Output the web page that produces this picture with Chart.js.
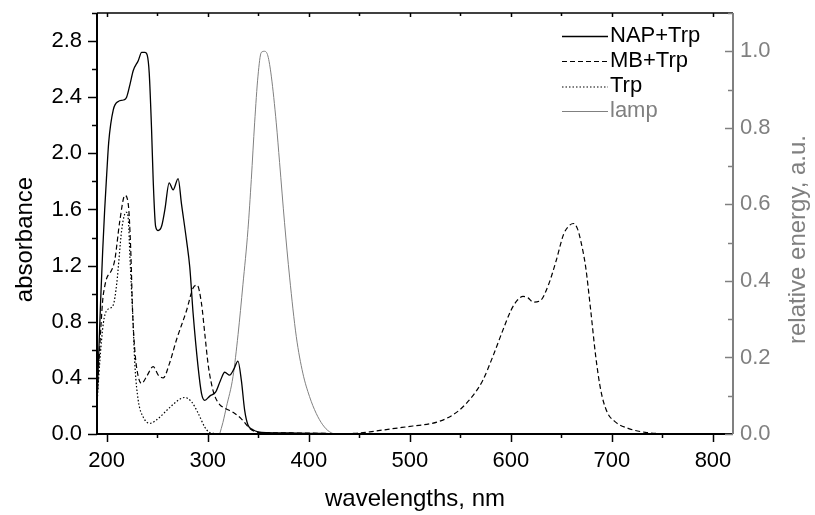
<!DOCTYPE html>
<html>
<head>
<meta charset="utf-8">
<title>absorbance and lamp spectrum</title>
<script src="https://cdn.jsdelivr.net/npm/chart.js@4.4.1/dist/chart.umd.min.js"></script>
<style>
    html, body { margin: 0; padding: 0; background: #ffffff; }
    #wrap { width: 815px; height: 515px; position: relative; }
</style>
</head>
<body>
<div id="wrap"><canvas id="spectraChart"></canvas></div>
<script>
/*
 Absorbance of NAP+Trp, MB+Trp, Trp and the lamp emission (right axis)
*/

// NAP+Trp, solid
const napWl = [190.5, 192, 194, 196, 198, 200, 202, 206.5, 211.5, 216.5, 219.7, 223, 226.3, 231.2, 234.6, 237.8, 240.1, 242.1, 244.4, 246, 248.4, 250.9, 254.3, 257.6, 261.8, 265.7, 270.7, 274, 279, 282.2, 285.5, 290.4, 293.8, 297, 302, 307.9, 312.5, 316.8, 321.7, 325.7, 329.9, 333.3, 336.5, 339.8, 344.7, 350, 360, 380, 400, 420];
const napAbs = [0.25, 0.55, 0.95, 1.3, 1.6, 1.85, 2.08, 2.31, 2.37, 2.38, 2.40, 2.49, 2.59, 2.66, 2.72, 2.72, 2.70, 2.57, 2.17, 1.81, 1.48, 1.45, 1.48, 1.60, 1.79, 1.74, 1.82, 1.64, 1.38, 1.19, 0.86, 0.48, 0.29, 0.24, 0.27, 0.30, 0.38, 0.44, 0.42, 0.46, 0.52, 0.38, 0.17, 0.064, 0.03, 0.015, 0.01, 0.008, 0.005, 0.003];

// MB+Trp, dashed
const mbWl = [190.5, 193, 196, 198, 200, 205, 208, 213, 218, 221.3, 223.7, 225.7, 228, 231.2, 234.6, 239.5, 246, 251, 256, 262, 269, 279, 285.5, 289.5, 293.8, 297, 300.3, 303.6, 307, 311.8, 318, 325, 333, 341.5, 346, 351, 370, 400, 430, 447, 465, 480, 503, 522, 536, 549, 562, 572, 582, 591, 600, 606, 612, 617, 622, 629, 637, 645, 652, 657, 662, 666, 669, 674, 679, 684, 689, 695, 703, 716, 733, 750, 780, 820];
const mbAbs = [0.25, 0.6, 0.95, 1.05, 1.11, 1.17, 1.24, 1.52, 1.70, 1.64, 1.33, 0.86, 0.58, 0.41, 0.36, 0.41, 0.48, 0.42, 0.40, 0.50, 0.67, 0.88, 1.04, 1.06, 0.93, 0.72, 0.50, 0.36, 0.27, 0.21, 0.18, 0.155, 0.11, 0.04, 0.02, 0.01, 0.008, 0.006, 0.003, 0.005, 0.02, 0.035, 0.057, 0.076, 0.11, 0.17, 0.27, 0.38, 0.55, 0.72, 0.88, 0.95, 0.98, 0.97, 0.94, 0.95, 1.06, 1.24, 1.42, 1.48, 1.50, 1.46, 1.38, 1.19, 0.88, 0.55, 0.31, 0.16, 0.088, 0.04, 0.012, 0.002, 0, 0];

// Trp, dotted
const trpWl = [190.5, 193, 196.7, 200, 206.5, 209.9, 214.8, 218, 219.7, 221.5, 223, 225.7, 228, 231.2, 236.2, 242.7, 250.9, 262.5, 270.7, 277.3, 283.9, 290.4, 297, 302, 310, 330, 360, 400];
const trpAbs = [0.22, 0.5, 0.79, 0.88, 0.92, 1.07, 1.45, 1.57, 1.58, 1.52, 1.26, 0.86, 0.48, 0.24, 0.12, 0.076, 0.11, 0.19, 0.24, 0.26, 0.23, 0.15, 0.05, 0.01, 0.003, 0.002, 0.001, 0];

// lamp, right axis
const lampWl = [311.8, 315, 318.5, 325, 330, 334.8, 339.8, 343.1, 346.4, 349.7, 353, 356.3, 359.5, 362.9, 367.8, 371.1, 376, 381, 387.6, 394.1, 400.7, 407.3, 413.8, 420.4, 427, 435];
const lampEnergy = [0, 0.03, 0.071, 0.15, 0.26, 0.39, 0.534, 0.665, 0.813, 0.935, 0.997, 1.0, 0.988, 0.935, 0.813, 0.709, 0.552, 0.41, 0.255, 0.159, 0.098, 0.054, 0.024, 0.006, 0, 0];

const FONT = "'Liberation Sans', Arial, sans-serif";
const GRAY = "#808080";

function toPoints(xs, ys) {
    return xs.map((x, i) => ({ x: x, y: ys[i] }));
}

function isStep(v, step) {
    const r = v / step;
    return Math.abs(r - Math.round(r)) < 1e-6;
}

// fixed axis sizes, no extra label padding around the plot
function fixSize(width, height) {
    return scale => {
        if (width !== null) scale.width = width;
        if (height !== null) scale.height = height;
        scale.paddingTop = 0;
        scale.paddingBottom = 0;
        scale.paddingLeft = 0;
        scale.paddingRight = 0;
    };
}

// frame, inner/outer ticks, axis titles and legend
const frameAndTicks = {
    id: "frameAndTicks",
    afterDraw(chart) {
        const { ctx, chartArea: a, scales } = chart;
        ctx.save();

        // bottom ticks (outside) and top ticks (inside)
        ctx.strokeStyle = "#000000";
        ctx.lineWidth = 1.5;
        scales.x.ticks.forEach(t => {
            if (!isStep(t.value, 50)) return;
            const px = Math.round(scales.x.getPixelForValue(t.value)) + 0.5;
            const major = isStep(t.value, 100);
            ctx.beginPath();
            ctx.moveTo(px, a.bottom);
            ctx.lineTo(px, a.bottom + (major ? 8 : 4));
            ctx.moveTo(px, a.top);
            ctx.lineTo(px, a.top + (major ? 4 : 3));
            ctx.stroke();
        });

        // left ticks (outside)
        scales.y.ticks.forEach(t => {
            if (!isStep(t.value, 0.2)) return;
            const py = Math.round(scales.y.getPixelForValue(t.value)) + 0.5;
            const major = isStep(t.value, 0.4);
            ctx.beginPath();
            ctx.moveTo(a.left, py);
            ctx.lineTo(a.left - (major ? 9 : 5), py);
            ctx.stroke();
        });

        // frame
        ctx.lineWidth = 2;
        ctx.beginPath();
        ctx.moveTo(a.left, a.top);
        ctx.lineTo(a.left, a.bottom);
        ctx.lineTo(a.right, a.bottom);
        ctx.stroke();
        ctx.lineWidth = 1.5;
        ctx.beginPath();
        ctx.moveTo(a.left, a.top);
        ctx.lineTo(a.right, a.top);
        ctx.stroke();

        // right axis, gray, ticks inside
        ctx.strokeStyle = GRAY;
        ctx.lineWidth = 2;
        ctx.beginPath();
        ctx.moveTo(a.right, a.top);
        ctx.lineTo(a.right, a.bottom);
        ctx.stroke();
        ctx.lineWidth = 1.5;
        scales.y1.ticks.forEach(t => {
            if (!isStep(t.value, 0.1)) return;
            const py = Math.round(scales.y1.getPixelForValue(t.value)) + 0.5;
            const major = isStep(t.value, 0.2);
            ctx.beginPath();
            ctx.moveTo(a.right, py);
            ctx.lineTo(a.right - (major ? 8 : 5), py);
            ctx.stroke();
        });

        // axis titles
        ctx.font = "24px " + FONT;
        ctx.fillStyle = "#000000";
        ctx.textAlign = "center";
        ctx.textBaseline = "alphabetic";
        ctx.fillText("wavelengths, nm", (a.left + a.right) / 2, 506);

        ctx.save();
        ctx.translate(32, 239.5);
        ctx.rotate(-Math.PI / 2);
        ctx.fillText("absorbance", 0, 0);
        ctx.restore();

        ctx.save();
        ctx.fillStyle = GRAY;
        ctx.translate(805, 239.5);
        ctx.rotate(-Math.PI / 2);
        ctx.fillText("relative energy, a.u.", 0, 0);
        ctx.restore();

        // legend
        ctx.font = "22px " + FONT;
        ctx.textAlign = "left";
        const rows = [36.5, 61.5, 87, 111.5];
        chart.data.datasets.forEach((ds, i) => {
            const y = rows[i];
            ctx.strokeStyle = ds.borderColor;
            ctx.lineWidth = ds.borderWidth;
            ctx.setLineDash(ds.borderDash || []);
            ctx.beginPath();
            ctx.moveTo(562, y);
            ctx.lineTo(608, y);
            ctx.stroke();
            ctx.setLineDash([]);
            ctx.fillStyle = ds.borderColor;
            ctx.fillText(ds.label, 610, y + 5);
        });

        ctx.restore();
    }
};

new Chart(document.getElementById("spectraChart"), {

    type: "line",

    data: {
        datasets: [
            {
                label: "NAP+Trp",
                data: toPoints(napWl, napAbs),
                yAxisID: "y",
                borderColor: "#000000",
                borderWidth: 1.3,
                pointRadius: 0,
                cubicInterpolationMode: "monotone"
            },
            {
                label: "MB+Trp",
                data: toPoints(mbWl, mbAbs),
                yAxisID: "y",
                borderColor: "#000000",
                borderWidth: 1.2,
                borderDash: [5, 3],
                pointRadius: 0,
                cubicInterpolationMode: "monotone"
            },
            {
                label: "Trp",
                data: toPoints(trpWl, trpAbs),
                yAxisID: "y",
                borderColor: "#000000",
                borderWidth: 1.2,
                borderDash: [1.5, 2],
                pointRadius: 0,
                cubicInterpolationMode: "monotone"
            },
            {
                label: "lamp",
                data: toPoints(lampWl, lampEnergy),
                yAxisID: "y1",
                borderColor: GRAY,
                borderWidth: 1,
                pointRadius: 0,
                cubicInterpolationMode: "monotone"
            }
        ]
    },

    options: {
        responsive: true,
        maintainAspectRatio: false,
        animation: false,
        events: [],
        layout: {
            padding: { top: 13, left: 0, right: 0, bottom: 0 }
        },
        plugins: {
            legend: { display: false },
            tooltip: { enabled: false }
        },
        scales: {
            x: {
                type: "linear",
                position: "bottom",
                min: 190.4,
                max: 819.8,
                grid: { display: false, drawTicks: false },
                border: { display: false },
                ticks: {
                    stepSize: 50,
                    autoSkip: false,
                    includeBounds: false,
                    maxRotation: 0,
                    padding: 14,
                    color: "#000000",
                    font: { family: FONT, size: 22 },
                    callback: v => isStep(v, 100) ? String(Math.round(v)) : ""
                },
                afterFit: fixSize(null, 81)
            },
            y: {
                type: "linear",
                position: "left",
                min: 0,
                max: 3.0,
                grid: { display: false, drawTicks: false },
                border: { display: false },
                ticks: {
                    stepSize: 0.2,
                    autoSkip: false,
                    includeBounds: false,
                    padding: 15,
                    color: "#000000",
                    font: { family: FONT, size: 22 },
                    callback: v => isStep(v, 0.4) ? v.toFixed(1) : ""
                },
                afterFit: fixSize(97, null)
            },
            y1: {
                type: "linear",
                position: "right",
                min: 0,
                max: 1.1,
                grid: { display: false, drawTicks: false },
                border: { display: false },
                ticks: {
                    stepSize: 0.1,
                    autoSkip: false,
                    includeBounds: false,
                    padding: 7,
                    color: GRAY,
                    font: { family: FONT, size: 22 },
                    callback: v => isStep(v, 0.2) ? v.toFixed(1) : ""
                },
                afterFit: fixSize(82, null)
            }
        }
    },

    plugins: [frameAndTicks]

});
</script>
</body>
</html>
